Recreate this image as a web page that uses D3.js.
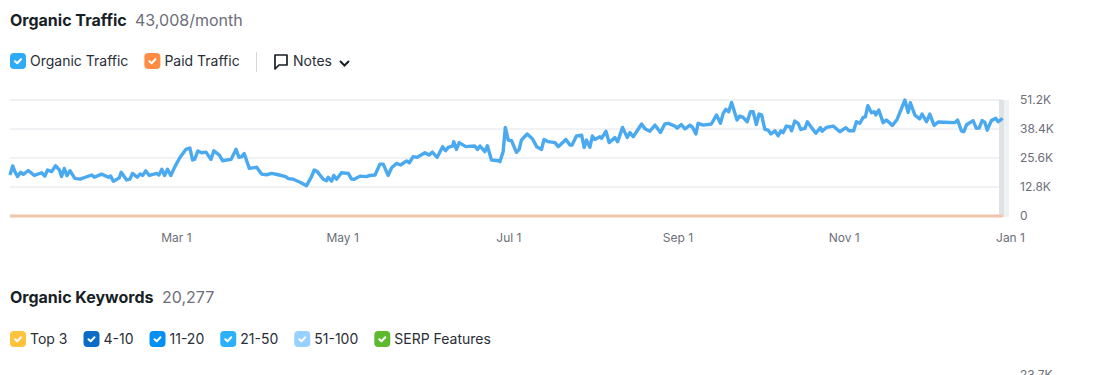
<!DOCTYPE html>
<html>
<head>
<meta charset="utf-8">
<script src="https://cdnjs.cloudflare.com/ajax/libs/d3/7.8.5/d3.min.js"></script>
<style>
  html, body { margin: 0; padding: 0; background: #fff; overflow: hidden; }
  text { font-family: Inter, "Open Sans", sans-serif; }
</style>
</head>
<body>
<div id="chart"></div>
<script>
// Days since Jan 1
const organicDays = [-2.2,-1.2,-0.4,0.6,1.7,2.7,4.5,6.7,9.4,10.6,11.6,13.1,14.5,15.9,16.7,17.7,18.7,19.8,21.6,23.5,27.8,28.7,31.4,33.9,34.7,35.7,37.9,38.6,40.6,41.8,42.7,44.5,45.5,46.5,47.6,48.9,51.6,52.4,53.5,54.5,55.6,56.8,58.3,60.1,62.3,63.8,64.8,65.6,66.7,68.1,69.7,71.5,72.6,74.6,75.8,77.3,78.9,80.7,81.8,82.8,83.7,85.6,88.3,90.1,91.9,93.8,96.2,98.9,99.9,101.7,104.2,106.6,108.4,109.4,110.5,112.7,113.9,114.5,115.8,116.6,117.6,119.4,121.9,123.1,124.1,126.2,128.6,129.8,131.7,133.5,134.7,136.5,137.8,139.6,141.1,143.3,144.3,145.7,147.2,150.0,151.6,152.7,154.5,156.5,157.6,158.6,160.2,160.6,161.6,162.6,165.0,168.3,169.3,170.2,172.0,172.9,174.4,176.9,177.5,178.7,179.5,180.6,181.8,183.6,184.6,185.4,187.5,189.5,191.0,192.8,193.7,195.2,197.7,198.9,201.7,203.2,204.0,205.6,207.5,208.4,209.3,210.5,211.4,212.3,214.2,214.8,216.4,217.6,219.7,220.7,222.5,224.2,225.2,226.4,229.5,230.7,232.5,234.4,236.4,238.0,239.3,241.7,242.5,244.1,245.4,247.2,248.2,249.4,250.2,252.1,255.1,257.0,258.4,259.4,260.4,261.4,262.5,264.5,265.5,266.7,268.2,269.4,270.4,271.6,272.6,273.5,274.7,275.9,276.9,278.4,279.6,280.6,281.4,282.6,283.9,284.5,285.7,286.9,287.9,289.4,290.3,291.8,293.4,295.1,295.7,297.3,299.8,302.2,304.4,305.6,307.3,308.3,309.5,310.8,311.6,312.5,313.8,314.8,315.4,316.5,318.1,319.3,321.5,323.2,326.1,327.3,328.1,329.7,331.5,332.4,334.0,335.2,336.8,338.3,342.5,344.4,345.4,346.8,347.7,348.7,351.1,352.3,353.3,354.4,355.4,356.3,357.8,359.4,360.3,361.9];

// Organic traffic in thousands
const organicValues = [18.1,22.1,19.6,17.4,19.3,18.4,20.1,17.9,19.1,17.6,20.3,19.6,22.2,20.3,17.4,21.0,17.8,20.0,16.6,16.3,18.1,17.1,18.5,17.1,17.6,15.3,16.9,19.3,15.9,16.3,18.8,17.1,18.5,17.9,19.9,17.9,18.8,18.1,20.6,17.9,20.6,17.9,21.8,25.7,29.4,30.0,24.7,25.1,28.7,27.9,28.2,25.0,28.8,26.9,24.4,24.7,25.0,29.4,25.9,26.2,27.6,21.0,21.5,18.5,18.2,18.8,18.2,17.4,16.5,16.2,14.9,13.4,17.4,20.3,19.6,16.2,15.6,17.1,15.4,17.9,16.2,19.1,18.8,16.3,16.2,17.6,17.4,17.9,18.1,22.9,22.9,17.9,21.3,23.2,22.5,24.3,23.5,26.2,25.9,27.9,26.9,28.2,25.9,30.6,28.8,30.3,30.9,32.8,29.4,32.4,30.6,30.9,29.4,30.9,28.4,31.0,24.7,24.4,24.0,28.4,39.1,33.5,33.2,28.1,29.4,33.5,36.2,34.0,30.6,29.4,33.8,32.8,32.4,30.6,33.8,31.3,31.3,35.3,35.7,30.3,33.5,30.3,35.3,33.8,35.0,34.3,37.4,32.4,34.6,32.8,39.1,34.7,36.8,35.0,40.6,38.5,37.4,40.1,36.9,40.6,40.9,39.7,38.8,40.4,38.4,40.1,39.1,36.2,40.9,40.1,40.6,44.6,40.9,45.3,47.1,46.0,50.1,42.4,44.1,43.5,41.6,46.0,46.0,40.4,45.0,44.6,38.2,37.9,36.2,37.6,35.4,37.6,36.8,39.7,39.4,37.6,41.9,40.9,38.2,38.7,41.6,39.1,36.5,39.0,37.4,39.1,39.7,37.2,39.0,37.6,37.6,41.6,40.9,43.5,43.8,48.7,45.6,46.0,44.6,46.8,41.2,42.4,40.0,42.6,51.2,45.7,50.0,44.6,42.8,45.0,41.6,45.0,40.0,41.5,41.3,41.2,42.4,37.6,37.2,40.3,42.1,38.7,38.8,42.1,41.3,37.9,42.1,43.1,41.6,43.1];

// Paid traffic stays at zero the whole year
const paidDays = [-2.2, 361.9];
const paidValues = [0, 0];

const yTicks = [0, 12.8, 25.6, 38.4, 51.2];
const xTicks = ["2021-03-01", "2021-05-01", "2021-07-01", "2021-09-01", "2021-11-01", "2022-01-01"];
const trafficLegend = ["Organic Traffic", "Paid Traffic"];
const trafficLegendColors = ["#2eaaf7", "#ff8c43"];
const keywordLegend = ["Top 3", "4-10", "11-20", "21-50", "51-100", "SERP Features"];
const keywordLegendColors = ["#ffc23d", "#0a6bc4", "#0090f5", "#2bb0fb", "#98d1ff", "#5fb92f"];

const parseDay = d3.utcParse("%Y-%m-%d");
const dayToDate = d => d3.utcHour.offset(parseDay("2021-01-01"), Math.round(d * 24));

const svg = d3.select("#chart")
  .append("svg")
  .attr("width", 1095)
  .attr("height", 375)
  .style("display", "block");

// Scales
const x = d3.scaleUtc()
  .domain([parseDay("2021-01-01"), parseDay("2022-01-01")])
  .range([16, 1011]);

const y = d3.scaleLinear()
  .domain([0, 51.2])
  .range([216, 100]);

const plotLeft = x(dayToDate(-2.2));
const plotRight = x(dayToDate(361.9));

// Header text next to a lighter value
function addHeader(top, title, value, valueX) {
  svg.append("text")
    .attr("x", 10)
    .attr("y", top)
    .attr("fill", "#181e25")
    .style("font-size", "16px")
    .style("font-weight", 700)
    .text(title);
  svg.append("text")
    .attr("x", valueX)
    .attr("y", top)
    .attr("fill", "#6c6e79")
    .style("font-size", "16px")
    .text(value);
}

// Checkbox legend row
function addLegend(names, colors, top) {
  let cursor = 10;
  names.forEach((name, i) => {
    const g = svg.append("g").attr("transform", `translate(${cursor},${top})`);
    g.append("rect")
      .attr("width", 16)
      .attr("height", 16)
      .attr("rx", 4)
      .attr("fill", colors[i]);
    g.append("path")
      .attr("d", "M5 8.2 L7.2 10.2 L11 6.2")
      .attr("fill", "none")
      .attr("stroke", "#fff")
      .attr("stroke-width", 2)
      .attr("stroke-linecap", "round")
      .attr("stroke-linejoin", "round");
    const label = g.append("text")
      .attr("x", 20)
      .attr("y", 13)
      .attr("fill", "#2a2e36")
      .style("font-size", "14px")
      .text(name);
    cursor += 20 + label.node().getComputedTextLength() + 16;
  });
}

addHeader(26, "Organic Traffic", "43,008/month", 135);
addLegend(trafficLegend, trafficLegendColors, 53);

// Notes control
svg.append("line")
  .attr("x1", 256.5).attr("x2", 256.5)
  .attr("y1", 52).attr("y2", 72)
  .attr("stroke", "#d5d7db");
svg.append("path")
  .attr("d", "M275 55 H287 V65 H279 L275 69 Z")
  .attr("fill", "none")
  .attr("stroke", "#181e25")
  .attr("stroke-width", 1.7)
  .attr("stroke-linejoin", "round");
svg.append("text")
  .attr("x", 293)
  .attr("y", 66)
  .attr("fill", "#2a2e36")
  .style("font-size", "14px")
  .text("Notes");
svg.append("path")
  .attr("d", "M340 61 L344.5 65.5 L349 61")
  .attr("fill", "none")
  .attr("stroke", "#181e25")
  .attr("stroke-width", 2);

// Grid lines
svg.append("g")
  .selectAll("line")
  .data(yTicks.slice(1))
  .enter()
  .append("line")
  .attr("x1", plotLeft)
  .attr("x2", plotRight)
  .attr("y1", d => y(d))
  .attr("y2", d => y(d))
  .attr("stroke", d => d === 51.2 ? "#eff0f2" : "#e3e4ea")
  .attr("stroke-width", d => d === 51.2 ? 2 : 1);

// Band at the right edge of the plot
svg.append("rect")
  .attr("x", 1004)
  .attr("y", y(51.2))
  .attr("width", 5)
  .attr("height", y(0) - y(51.2) + 1)
  .attr("fill", "#eff2f3");
svg.append("rect")
  .attr("x", 999)
  .attr("y", y(51.2))
  .attr("width", 5)
  .attr("height", y(0) - y(51.2) + 1)
  .attr("fill", "#dfe3e5");

// Y axis
const yAxis = svg.append("g")
  .attr("transform", "translate(1020,0)")
  .call(d3.axisRight(y)
    .tickValues(yTicks)
    .tickSize(0)
    .tickPadding(0)
    .tickFormat(d => d ? `${d.toFixed(1)}K` : "0"));
yAxis.select(".domain").remove();
yAxis.selectAll("text")
  .attr("fill", "#6c6e79")
  .style("font-family", "Inter, sans-serif")
  .style("font-size", "12px");

// X axis
const xAxis = svg.append("g")
  .attr("transform", "translate(-1,233)")
  .call(d3.axisBottom(x)
    .tickValues(xTicks.map(parseDay))
    .tickSize(0)
    .tickPadding(0)
    .tickFormat(d3.utcFormat("%b %-d")));
xAxis.select(".domain").remove();
xAxis.selectAll("text")
  .attr("fill", "#6c6e79")
  .style("font-family", "Inter, sans-serif")
  .style("font-size", "12px");

// Paid traffic line
svg.append("path")
  .datum(paidDays)
  .attr("fill", "none")
  .attr("stroke", "#efc5ad")
  .attr("stroke-width", 3)
  .attr("d", d3.line()
    .x(d => x(dayToDate(d)))
    .y((d, i) => y(paidValues[i])));

// Organic traffic line
svg.append("path")
  .datum(organicDays)
  .attr("fill", "none")
  .attr("stroke", "#4aa9ef")
  .attr("stroke-width", 3.4)
  .attr("stroke-linejoin", "round")
  .attr("d", d3.line()
    .x(d => x(dayToDate(d)))
    .y((d, i) => y(organicValues[i])));

// Second chart, its top tick is partly below the window
addHeader(303, "Organic Keywords", "20,277", 162);
addLegend(keywordLegend, keywordLegendColors, 331);

svg.append("text")
  .attr("x", 1020)
  .attr("y", 379)
  .attr("fill", "#6c6e79")
  .style("font-size", "12px")
  .text("23.7K");
</script>
</body>
</html>
